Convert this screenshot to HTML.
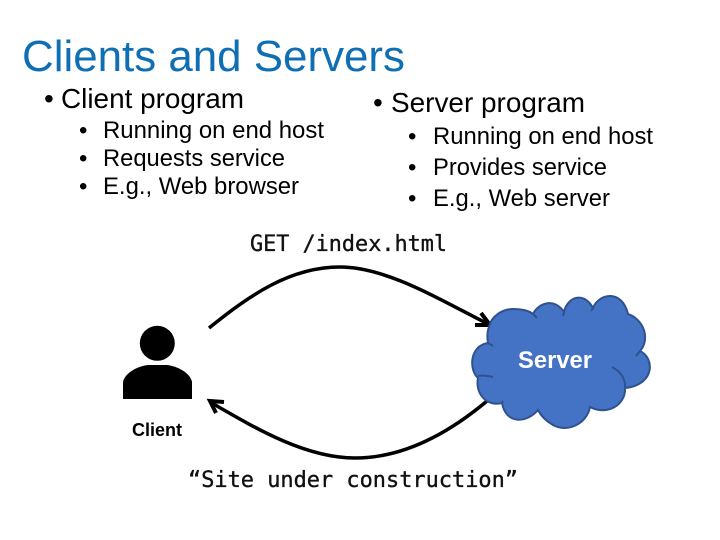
<!DOCTYPE html>
<html><head><meta charset="utf-8"><style>
html,body{margin:0;padding:0;background:#fff}
svg{display:block}
text{font-family:"Liberation Sans",sans-serif;fill:#000}
.m{font-family:"DejaVu Sans Mono","Liberation Mono",monospace;font-size:22px;fill:#111;stroke:#111;stroke-width:.35}
</style></head><body>
<svg width="720" height="540" viewBox="0 0 720 540" xmlns="http://www.w3.org/2000/svg">
<rect width="720" height="540" fill="#fff"/>
<text x="22" y="71" font-size="44" style="fill:#0f6fb5" textLength="383" lengthAdjust="spacingAndGlyphs">Clients and Servers</text>

<text x="44" y="108" font-size="28">•</text>
<text x="61" y="108" font-size="28" textLength="183" lengthAdjust="spacingAndGlyphs">Client program</text>
<g font-size="24">
<text x="79" y="138">•</text><text x="103" y="138" textLength="221" lengthAdjust="spacingAndGlyphs">Running on end host</text>
<text x="79" y="166">•</text><text x="103" y="166" textLength="182" lengthAdjust="spacingAndGlyphs">Requests service</text>
<text x="79" y="194">•</text><text x="103" y="194" textLength="196" lengthAdjust="spacingAndGlyphs">E.g., Web browser</text>
</g>

<text x="373" y="112" font-size="28">•</text>
<text x="391" y="112" font-size="28" textLength="194" lengthAdjust="spacingAndGlyphs">Server program</text>
<g font-size="24">
<text x="408" y="144">•</text><text x="433" y="144" textLength="220" lengthAdjust="spacingAndGlyphs">Running on end host</text>
<text x="408" y="175">•</text><text x="433" y="175" textLength="174" lengthAdjust="spacingAndGlyphs">Provides service</text>
<text x="408" y="206">•</text><text x="433" y="206" textLength="177" lengthAdjust="spacingAndGlyphs">E.g., Web server</text>
</g>

<text class="m" x="250" y="251" textLength="197" lengthAdjust="spacingAndGlyphs">GET /index.html</text>
<text class="m" x="188" y="487" textLength="330" lengthAdjust="spacingAndGlyphs">“Site under construction”</text>

<!-- top arrow -->
<path d="M209 328 C250 295 290 267 340 267 C385 267 435 297 488 324" fill="none" stroke="#000" stroke-width="3.500"/>
<path d="M481 313 L490 325 L475 325" fill="none" stroke="#000" stroke-width="4"/>
<!-- bottom arrow -->
<path d="M210 402 C255 428 305 458 355 458 C405 458 450 432 487 401" fill="none" stroke="#000" stroke-width="3.500"/>
<path d="M224 402 L210 401 L216 413" fill="none" stroke="#000" stroke-width="4"/>

<!-- cloud -->
<path d="M489 327 C491 316 503 309 513 309 C520 309 528 310 533 314 C539 302 555 298 564 312 C567 298 583 290 593 308 C599 293 622 289 628 314 C645 320 650 340 640 351 C655 358 655 385 625 388 C626 405 607 416 590 407 C587 424 567 433 553 425 C546 421 541 416 538 410 C527 423 506 425 502 403 C486 407 475 393 478 378 C469 370 469 346 488 343 C487 337 487 332 489 327 Z" fill="#4472c4" stroke="#2f528f" stroke-width="2"/>
<path d="M488 343 L493 346 M478 376 C483 375 489 376 493 377 M502 403 L503 401 M612 367 C620 371 626 379 625 388 M640 351 L636 356 M593 308 L591 311 M564 312 L563 316 M533 314 L537 318" fill="none" stroke="#2f528f" stroke-width="2"/>
<text x="518" y="368" font-size="24" font-weight="bold" style="fill:#fff" textLength="74" lengthAdjust="spacingAndGlyphs">Server</text>

<!-- person -->
<circle cx="157.300" cy="343.300" r="17.500" fill="#000"/>
<path d="M123 399 L123 382 C125 372 140 365 150 365 L167 365 C176 366 190 372 192 382 L192 399 Z" fill="#000"/>
<text x="132" y="436" font-size="18" font-weight="bold" textLength="50" lengthAdjust="spacingAndGlyphs">Client</text>
</svg>
</body></html>
